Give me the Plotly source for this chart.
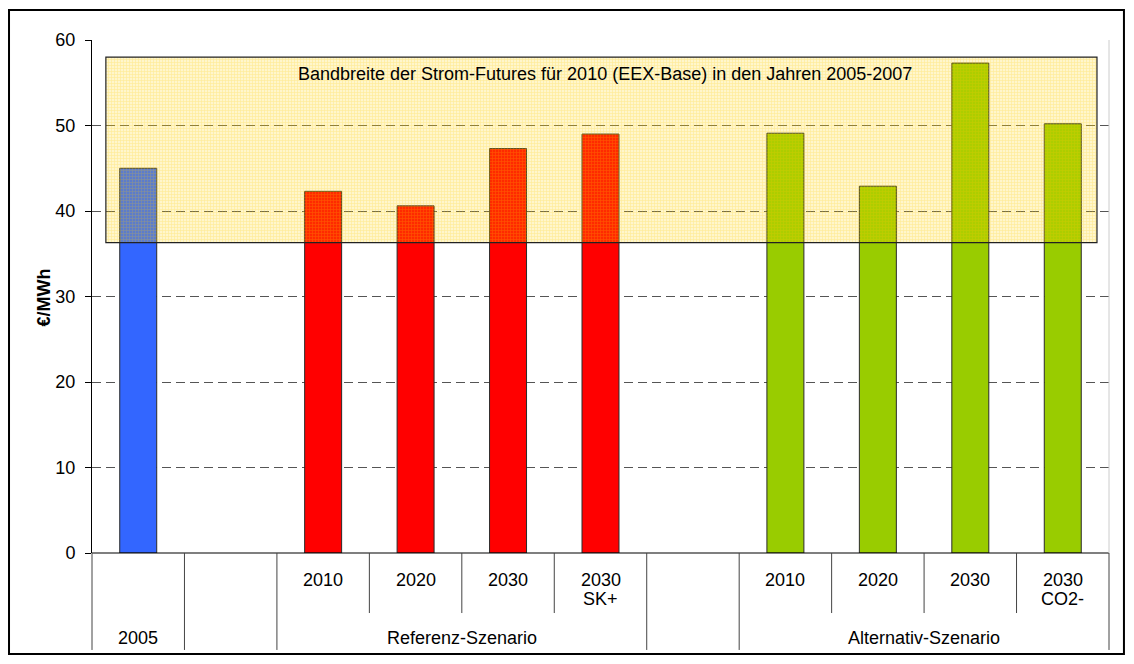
import plotly.graph_objects as go

# ---- data ----
top_labels = ["2005", "", "2010", "2020", "2030", "2030|SK+", "", "2010", "2020", "2030", "2030|CO2-"]
values = [45.0, None, 42.3, 40.6, 47.3, 49.0, None, 49.1, 42.9, 57.3, 50.2]
bar_colors = ["#3366FF", "#FFFFFF", "#FF0000", "#FF0000", "#FF0000", "#FF0000", "#FFFFFF",
              "#99CC00", "#99CC00", "#99CC00", "#99CC00"]
groups = [("2005", 0, 0), ("", 1, 1), ("Referenz-Szenario", 2, 5), ("", 6, 6), ("Alternativ-Szenario", 7, 10)]
band_low, band_high = 36.3, 58.0
band_text = "Bandbreite der Strom-Futures für 2010 (EEX-Base) in den Jahren 2005-2007"
y_ticks = [0, 10, 20, 30, 40, 50, 60]
y_title = "€/MWh"

n = len(top_labels)
xs = list(range(n))
FONT = "Liberation Sans, Arial, sans-serif"
FS = 18

fig = go.Figure()
fig.add_trace(go.Bar(
    x=xs, y=values, width=0.4,
    marker=dict(color=bar_colors, line=dict(color="#2a2a2a", width=1)),
    hoverinfo="skip", showlegend=False,
))
# band drawn over the bars
fig.add_trace(go.Bar(
    x=[5.01], y=[band_high - band_low], base=[band_low], width=[10.72],
    marker=dict(color="rgba(255,212,0,0.20)",
                line=dict(color="#222222", width=1.2),
                pattern=dict(shape="+", fgcolor="rgba(255,200,0,0.5)", size=3, solidity=0.4,
                             fillmode="overlay")),
    hoverinfo="skip", showlegend=False,
))

# page body has an 8px margin: plot area 92..1109 x 40..553 in window coords
fig.update_layout(
    width=1118, height=648,
    margin=dict(l=84, r=17, t=32, b=103),
    paper_bgcolor="white", plot_bgcolor="white",
    barmode="overlay",
    font=dict(family=FONT, size=FS, color="black"),
    xaxis=dict(range=[-0.5, n - 0.5], showticklabels=False, showgrid=False, zeroline=False,
               showline=False, ticks=""),
    yaxis=dict(range=[0, 60], tickvals=y_ticks, showgrid=True, gridcolor="#555555",
               griddash="9px,5px", gridwidth=1, zeroline=False, showline=True, linecolor="black",
               linewidth=1, ticks="outside", ticklen=6, tickcolor="black", ticklabelstandoff=6,
               tickfont=dict(size=FS, family=FONT)),
    showlegend=False,
)

shapes = []
shapes.append(dict(type="line", xref="paper", yref="paper", x0=0, x1=1, y0=0, y1=0,
                   line=dict(color="black", width=1.2)))
shapes.append(dict(type="line", xref="paper", yref="paper", x0=1, x1=1, y0=0, y1=1,
                   line=dict(color="#cccccc", width=1)))
group_edges = set()
for _, a, b in groups:
    group_edges.add(a)
    group_edges.add(b + 1)
for k in range(n + 1):
    y1 = -0.189 if k in group_edges else -0.117
    shapes.append(dict(type="line", xref="paper", yref="paper", x0=k / n, x1=k / n, y0=0, y1=y1,
                       line=dict(color="#444444", width=1)))
shapes.append(dict(type="rect", xref="paper", yref="paper", x0=-0.0816, x1=1.0147, y0=-0.1969, y1=1.0585,
                   line=dict(color="black", width=2), fillcolor="rgba(0,0,0,0)"))
fig.update_layout(shapes=shapes)

single = {g[1] for g in groups if g[1] == g[2]}
ann = []
for i, lab in enumerate(top_labels):
    if not lab or i in single:
        continue
    for j, part in enumerate(lab.split("|")):
        ann.append(dict(x=i, y=-0.0536 - j * 0.037, xref="x", yref="paper", text=part, showarrow=False,
                        yanchor="middle", font=dict(size=FS, family=FONT)))
for name, a, b in groups:
    if name:
        ann.append(dict(x=(a + b) / 2, y=-0.166, xref="x", yref="paper", text=name, showarrow=False,
                        yanchor="middle", font=dict(size=FS, family=FONT)))
ann.append(dict(x=5.05, y=0.934, xref="x", yref="paper", text=band_text, showarrow=False,
                yanchor="middle", font=dict(size=FS, family=FONT)))
ann.append(dict(x=-0.0467, y=0.497, xref="paper", yref="paper", text="<b>" + y_title + "</b>",
                showarrow=False, textangle=-90, xanchor="center", yanchor="middle",
                font=dict(size=FS, family=FONT)))
fig.update_layout(annotations=ann)

fig.write_html("out.html")
